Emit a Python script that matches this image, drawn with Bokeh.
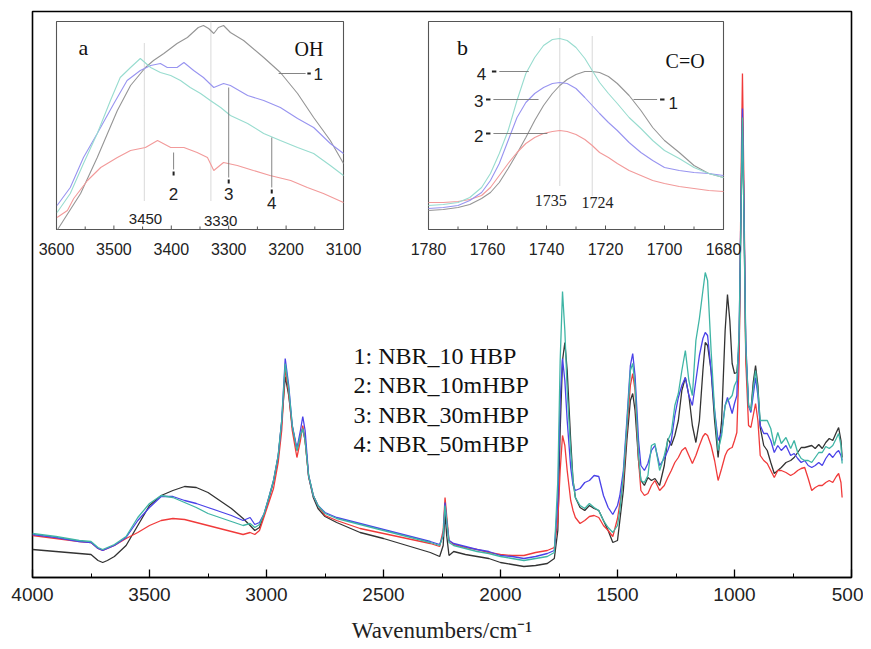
from bokeh.plotting import figure
from bokeh.models import Range1d, SingleIntervalTicker
from bokeh.embed import file_html
from bokeh.resources import INLINE
from bokeh.core.properties import value

# ---------------- main spectra (wavenumber, relative absorbance) ----------------
wn = [4000, 3900, 3800, 3750, 3720, 3700, 3680, 3650, 3600, 3550, 3500, 3450, 3400, 3350, 3300,
      3250, 3200, 3150, 3100, 3070, 3050, 3030, 3010, 2990, 2970, 2950, 2935, 2920, 2905, 2890,
      2870, 2855, 2845, 2835, 2820, 2800, 2780, 2750, 2700, 2600, 2500, 2400, 2300, 2260, 2245,
      2237, 2230, 2220, 2200, 2150, 2100, 2050, 2000, 1950, 1900, 1850, 1800, 1770, 1755, 1745,
      1735, 1725, 1715, 1700, 1690, 1680, 1660, 1640, 1620, 1600, 1580, 1560, 1540, 1520, 1500,
      1490, 1475, 1460, 1445, 1435, 1425, 1410, 1400, 1385, 1370, 1355, 1340, 1320, 1300, 1285,
      1270, 1255, 1240, 1225, 1210, 1195, 1180, 1165, 1150, 1135, 1125, 1115, 1100, 1085, 1070,
      1055, 1040, 1030, 1020, 1010, 1000, 990, 980, 972, 966, 960, 952, 940, 930, 920,
      910, 900, 890, 875, 860, 845, 830, 815, 800, 780, 760, 745, 730, 715, 700,
      685, 670, 655, 640, 625, 610, 595, 580, 565, 555, 545, 540]

nbr_10hbp = [28, 26, 24, 23, 17, 15, 17, 21, 32, 52, 72, 82, 87, 91, 90,
             85, 77, 69, 59, 52, 47, 50, 63, 79, 96, 121, 155, 201, 182, 151,
             127, 142, 149, 137, 101, 80, 69, 61, 55, 45, 39, 32, 25, 21, 32,
             64, 42, 22, 26, 23, 21, 19, 15, 13, 11, 12, 14, 19, 47, 147,
             217, 235, 207, 137, 97, 80, 70, 67, 72, 69, 67, 57, 47, 35, 37,
             57, 87, 137, 177, 184, 167, 117, 97, 92, 100, 97, 99, 92, 112, 139,
             132, 142, 157, 187, 200, 182, 152, 135, 157, 207, 235, 232, 207, 157, 120,
             157, 247, 283, 257, 214, 204, 205, 232, 367, 460, 367, 227, 172, 167, 195,
             212, 192, 150, 132, 127, 115, 104, 107, 110, 115, 117, 120, 125, 130, 130,
             131, 132, 129, 133, 129, 135, 139, 137, 145, 150, 137, 120]

nbr_10mhbp = [42, 39, 36, 35, 29, 27, 29, 32, 39, 45, 52, 57, 59, 58, 55,
              52, 49, 46, 43, 45, 43, 47, 61, 75, 89, 115, 147, 209, 185, 147,
              120, 137, 152, 137, 101, 82, 72, 62, 57, 49, 44, 39, 34, 31, 47,
              80, 62, 37, 33, 30, 28, 25, 23, 22, 22, 25, 27, 30, 57, 107,
              142, 132, 107, 77, 67, 60, 54, 57, 61, 62, 60, 52, 47, 41, 59,
              74, 97, 147, 192, 204, 187, 117, 87, 82, 84, 92, 97, 87, 92, 100,
              107, 115, 120, 127, 130, 122, 114, 122, 132, 141, 144, 142, 132, 117, 97,
              109, 122, 127, 129, 130, 137, 145, 217, 397, 504, 397, 217, 152, 150, 162,
              174, 157, 122, 117, 114, 107, 100, 107, 107, 105, 102, 104, 107, 109, 110,
              99, 87, 90, 92, 92, 95, 97, 95, 101, 104, 95, 80]

nbr_30mhbp = [43, 40, 36, 35, 29, 27, 29, 32, 40, 57, 70, 81, 81, 77, 74,
              70, 66, 62, 57, 60, 53, 55, 64, 80, 97, 122, 157, 219, 192, 152,
              129, 147, 161, 147, 102, 82, 72, 65, 60, 54, 48, 42, 36, 33, 42,
              75, 57, 37, 34, 31, 28, 26, 22, 21, 19, 21, 24, 27, 77, 177,
              219, 197, 157, 110, 92, 87, 89, 95, 97, 102, 101, 82, 70, 63, 72,
              82, 107, 157, 212, 224, 202, 137, 112, 107, 114, 127, 132, 112, 119, 127,
              137, 162, 180, 192, 200, 182, 172, 197, 222, 239, 245, 242, 207, 167, 137,
              145, 172, 180, 172, 164, 174, 182, 247, 377, 469, 377, 237, 172, 165, 182,
              200, 182, 152, 144, 144, 137, 125, 132, 127, 132, 122, 124, 119, 115, 117,
              112, 110, 112, 115, 112, 119, 124, 120, 125, 127, 122, 117]

nbr_50mhbp = [44, 41, 37, 36, 30, 28, 30, 33, 41, 60, 74, 82, 80, 75, 70,
              64, 60, 56, 52, 54, 50, 53, 64, 80, 97, 122, 157, 214, 189, 152,
              127, 142, 149, 137, 102, 82, 72, 64, 59, 53, 47, 41, 35, 32, 42,
              72, 57, 35, 32, 29, 26, 24, 21, 19, 17, 19, 21, 25, 97, 217,
              286, 247, 187, 127, 97, 80, 72, 69, 74, 70, 67, 57, 50, 45, 52,
              67, 102, 152, 207, 214, 192, 122, 97, 95, 102, 132, 134, 107, 122, 137,
              145, 172, 184, 207, 227, 197, 182, 237, 259, 287, 305, 297, 227, 167, 127,
              142, 172, 177, 179, 182, 192, 197, 247, 367, 460, 367, 232, 172, 167, 189,
              207, 187, 157, 157, 157, 149, 132, 145, 134, 140, 129, 137, 125, 119, 117,
              117, 115, 120, 125, 125, 131, 129, 132, 139, 144, 132, 114]

# ---------------- inset a : OH region ----------------
a1_x = [3598, 3558, 3529, 3494, 3471, 3445, 3431, 3413, 3390, 3372, 3353, 3344, 3335, 3326,
        3318, 3309, 3297, 3274, 3239, 3210, 3180, 3152, 3123, 3100]
a1_y = [0, 36, 72, 119, 144, 162, 169, 176, 186, 192, 202, 204, 201, 196,
        202, 204, 197, 189, 172, 157, 136, 112, 89, 66]
a2_x = [3599, 3581, 3570, 3546, 3523, 3494, 3471, 3445, 3424, 3401, 3378, 3355, 3337, 3326,
        3309, 3285, 3257, 3228, 3192, 3163, 3135, 3100]
a2_y = [12, 19, 31, 49, 62, 72, 79, 82, 89, 82, 82, 77, 72, 59,
        67, 64, 59, 54, 49, 42, 36, 27]
a3_x = [3599, 3576, 3553, 3529, 3500, 3477, 3454, 3436, 3419, 3407, 3390, 3378, 3361, 3344,
        3326, 3309, 3297, 3267, 3239, 3210, 3180, 3152, 3123, 3100]
a3_y = [24, 42, 72, 96, 126, 149, 159, 164, 166, 162, 162, 167, 159, 152,
        142, 146, 144, 134, 129, 122, 111, 102, 86, 76]
a4_x = [3599, 3576, 3553, 3529, 3506, 3489, 3471, 3454, 3448, 3436, 3419, 3401, 3384, 3367,
        3349, 3332, 3314, 3297, 3267, 3239, 3210, 3180, 3152, 3123, 3100]
a4_y = [17, 36, 66, 96, 129, 152, 162, 171, 168, 162, 157, 154, 149, 142,
        136, 129, 122, 114, 106, 96, 89, 82, 76, 64, 54]

# ---------------- inset b : C=O region ----------------
b_x = [1780, 1775, 1770, 1766, 1762, 1759, 1756, 1753, 1750, 1747, 1744, 1741, 1738, 1735.5,
       1733, 1730, 1727, 1724.5, 1722, 1719, 1716, 1712, 1708, 1704, 1700, 1695, 1690, 1685, 1680]
b1_y = [19, 20, 22, 25, 31, 37, 47, 61, 76, 92, 109, 124, 136, 144,
        150, 155, 158, 158, 157, 153, 146, 134, 119, 102, 89, 77, 64, 56, 52]
b2_y = [27, 27, 28, 30, 34, 42, 54, 66, 77, 86, 92, 96, 98, 99,
        98, 95, 90, 84, 77, 72, 66, 59, 54, 49, 46, 43, 41, 39, 38]
b3_y = [21, 22, 24, 29, 37, 49, 66, 89, 112, 127, 136, 142, 146, 147,
        146, 141, 132, 124, 116, 107, 99, 87, 77, 69, 62, 59, 57, 56, 54]
b4_y = [24, 25, 27, 32, 42, 56, 76, 99, 129, 156, 172, 184, 190, 191,
        189, 182, 171, 159, 147, 136, 126, 112, 101, 89, 79, 71, 62, 56, 52]

series_names = ["1: NBR_10 HBP", "2: NBR_10mHBP", "3: NBR_30mHBP", "4: NBR_50mHBP"]
main_colors = ["#333333", "#f03a3a", "#4a42e8", "#3fb5a5"]
inset_colors = ["#959595", "#f29a9a", "#9894f0", "#98dccf"]

x_ticks_a = [3600, 3500, 3400, 3300, 3200, 3100]
x_minor_a = [3550, 3450, 3350, 3250, 3150]
x_ticks_b = [1780, 1760, 1740, 1720, 1700, 1680]
x_minor_b = [1770, 1750, 1730, 1710, 1690]

SERIF = "Liberation Serif"
SANS = "Liberation Sans"

# ---------------- layout helpers (page pixels of the main frame) ----------------
W, H = 863, 649
FL, FR, FT, FB = 32, 851, 11, 577


def span(d0, p0, d1, p1, f0, f1):
    k = (d1 - d0) / (p1 - p0)
    return Range1d(start=d0 + (f0 - p0) * k, end=d0 + (f1 - p0) * k)


p = figure(width=W, height=H, output_backend="svg", toolbar_location=None,
           x_range=Range1d(4000, 500), y_range=Range1d(0, 566),
           min_border_left=FL, min_border_right=W - FR, min_border_top=FT,
           min_border_bottom=H - FB)
p.background_fill_color = "white"
p.border_fill_color = "white"
p.outline_line_color = "black"
p.outline_line_width = 1.6
p.xgrid.visible = False
p.ygrid.visible = False
p.yaxis.visible = False

xa = p.xaxis[0]
xa.ticker = SingleIntervalTicker(interval=500, num_minor_ticks=2)
xa.axis_line_width = 1.6
xa.major_tick_in = 8
xa.major_tick_out = 0
xa.minor_tick_in = 4
xa.minor_tick_out = 0
xa.major_tick_line_width = 1.3
xa.major_label_text_font = SANS
xa.major_label_text_font_size = "19px"
xa.major_label_text_color = "#222222"
xa.major_label_standoff = 10
xa.axis_label = "Wavenumbers/cm\u207b\u00b9"
xa.axis_label_text_font = SERIF
xa.axis_label_text_font_size = "23px"
xa.axis_label_text_font_style = "normal"
xa.axis_label_text_color = "#222222"
xa.axis_label_standoff = 14

# main spectra
for ys, c in zip([nbr_10hbp, nbr_10mhbp, nbr_30mhbp, nbr_50mhbp], main_colors):
    p.line(wn, ys, line_color=c, line_width=1.3)

# legend text
p.text(x=[2628] * 4, y=[222, 193, 163, 134], text=series_names,
       text_font=value(SERIF), text_font_size=value("24px"), text_color="#111111",
       text_baseline="alphabetic", text_align="left")

# inset ranges
p.extra_x_ranges = {
    "ax": span(3600, 56, 3100, 343, FL, FR),
    "bx": span(1780, 428, 1680, 723, FL, FR),
}
p.extra_y_ranges = {"iy": span(0, 229, 208, 21, FB, FT)}

for rx, left, right, ticks, minor in [("ax", 3600, 3100, x_ticks_a, x_minor_a),
                                      ("bx", 1780, 1680, x_ticks_b, x_minor_b)]:
    kw = dict(x_range_name=rx, y_range_name="iy")
    p.quad(left=[left], right=[right], bottom=[0], top=[208], fill_color="white",
           line_color="#555555", line_width=1.1, **kw)
    p.segment(x0=ticks, x1=ticks, y0=[0] * len(ticks), y1=[4] * len(ticks),
              line_color="#555555", line_width=1, **kw)
    p.segment(x0=minor, x1=minor, y0=[0] * len(minor), y1=[3] * len(minor),
              line_color="#555555", line_width=1, **kw)
    p.text(x=ticks, y=[0] * len(ticks), text=[str(t) for t in ticks], y_offset=19,
           text_font=value(SANS), text_font_size=value("16px"), text_color="#222222",
           text_align="center", text_baseline="middle", **kw)

ka = dict(x_range_name="ax", y_range_name="iy")
kb = dict(x_range_name="bx", y_range_name="iy")

# inset a content
p.segment(x0=[3447, 3331], x1=[3447, 3331], y0=[29, 29], y1=[187, 208],
          line_color="#aaaaaa", line_width=0.9, line_dash="1 1", **ka)
for xs, ys, c in zip([a1_x, a2_x, a3_x, a4_x], [a1_y, a2_y, a3_y, a4_y], inset_colors):
    p.line(xs, ys, line_color=c, line_width=1.1, **ka)
# leaders
p.segment(x0=[3213, 3396, 3300, 3225], x1=[3166, 3396, 3300, 3225],
          y0=[156, 77, 142, 92], y1=[156, 60, 52, 42],
          line_color="#777777", line_width=0.9, **ka)
p.segment(x0=[3163, 3396, 3300, 3225], x1=[3157, 3396, 3300, 3225],
          y0=[156, 58, 50, 40], y1=[156, 54, 46, 36],
          line_color="#222222", line_width=2, **ka)
p.text(x=[3144, 3396, 3300, 3225], y=[156, 36, 36, 27], text=["1", "2", "3", "4"],
       text_font=value(SANS), text_font_size=value("17px"), text_color="#222222",
       text_align="center", text_baseline="middle", **ka)
p.text(x=[3445, 3314], y=[11, 9], text=["3450", "3330"],
       text_font=value(SANS), text_font_size=value("15px"), text_color="#222222",
       text_align="center", text_baseline="middle", **ka)
p.text(x=[3553], y=[182], text=["a"], text_font=value(SERIF), text_font_size=value("22px"),
       text_color="#111111", text_align="center", text_baseline="middle", **ka)
p.text(x=[3160], y=[181], text=["OH"], text_font=value(SERIF), text_font_size=value("20px"),
       text_color="#111111", text_align="center", text_baseline="middle", **ka)

# inset b content
p.segment(x0=[1735.5, 1724.5], x1=[1735.5, 1724.5], y0=[44, 34], y1=[202, 194],
          line_color="#aaaaaa", line_width=0.9, line_dash="1 1", **kb)
for ys, c in zip([b1_y, b2_y, b3_y, b4_y], inset_colors):
    p.line(b_x, ys, line_color=c, line_width=1.1, **kb)
p.segment(x0=[1756, 1758, 1758, 1710.5], x1=[1746, 1742.7, 1739.7, 1702.5],
          y0=[158, 130, 96, 130], y1=[158, 130, 96, 130],
          line_color="#777777", line_width=0.9, **kb)
p.segment(x0=[1758.5, 1760.5, 1760.5, 1701.5], x1=[1757, 1759, 1759, 1700],
          y0=[158, 130, 96, 130], y1=[158, 130, 96, 130],
          line_color="#222222", line_width=2, **kb)
p.text(x=[1697, 1763, 1763, 1762], y=[127, 94, 129, 156], text=["1", "2", "3", "4"],
       text_font=value(SANS), text_font_size=value("17px"), text_color="#222222",
       text_align="center", text_baseline="middle", **kb)
p.text(x=[1738.6, 1722.7], y=[29, 27], text=["1735", "1724"],
       text_font=value(SERIF), text_font_size=value("16px"), text_color="#222222",
       text_align="center", text_baseline="middle", **kb)
p.text(x=[1768.5], y=[182], text=["b"], text_font=value(SERIF), text_font_size=value("22px"),
       text_color="#111111", text_align="center", text_baseline="middle", **kb)
p.text(x=[1693], y=[169], text=["C=O"], text_font=value(SERIF), text_font_size=value("20px"),
       text_color="#111111", text_align="center", text_baseline="middle", **kb)

open("out.html", "w").write(file_html(p, INLINE))
